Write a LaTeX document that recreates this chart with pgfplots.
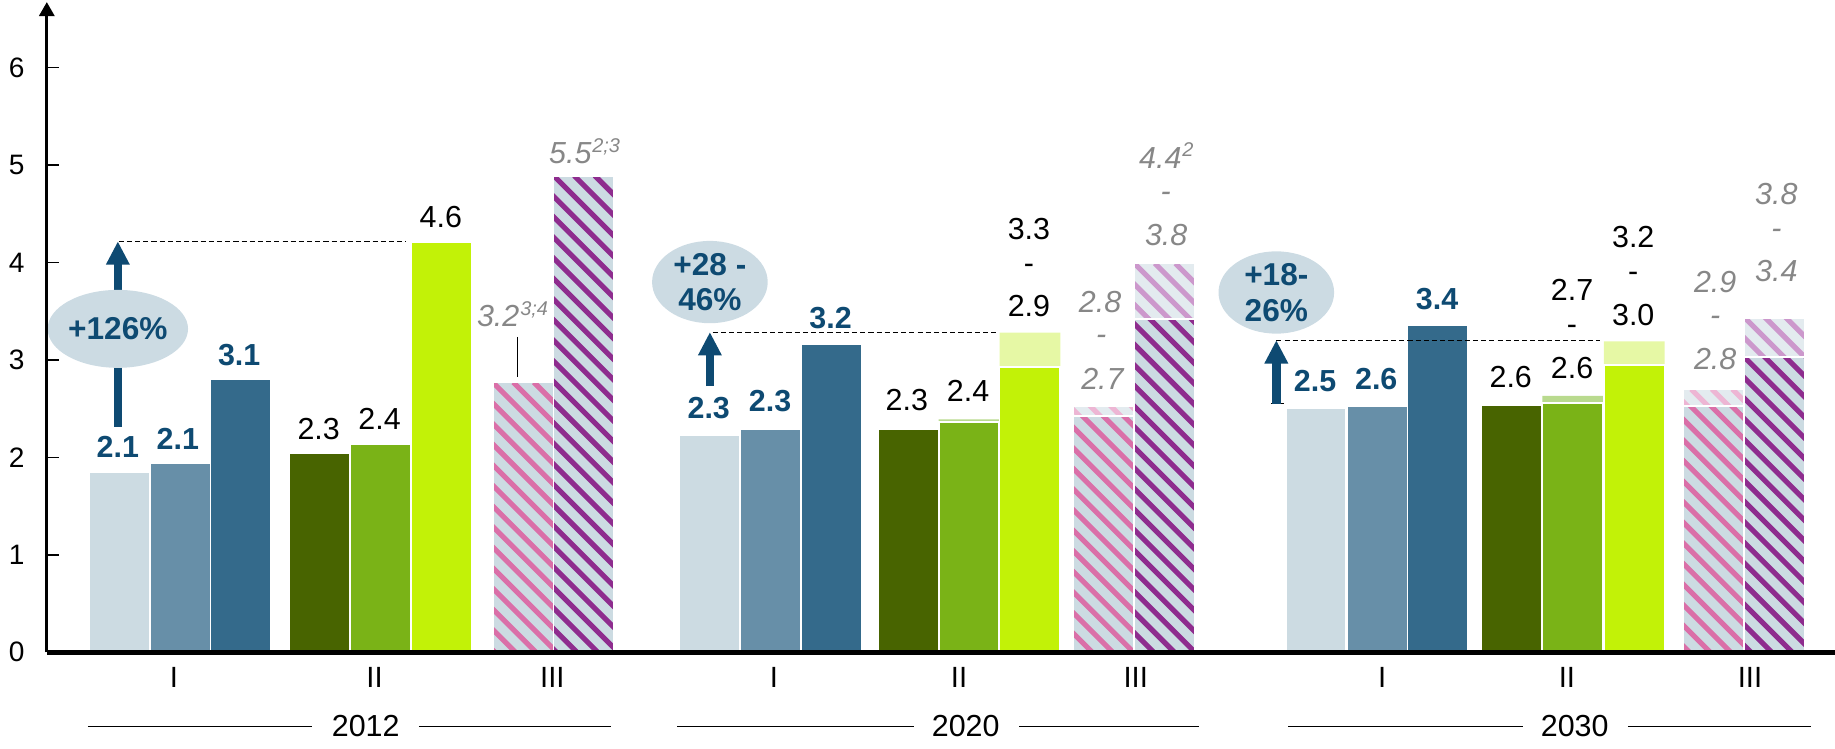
\documentclass[border=0pt]{standalone}
\usepackage{fontspec}
\setmainfont{Liberation Sans}
\usepackage{pgfplots}
\pgfplotsset{compat=1.18}
\usetikzlibrary{arrows.meta,shapes.geometric}

\definecolor{cA}{HTML}{CCDBE2}
\definecolor{cB}{HTML}{678FA8}
\definecolor{cC}{HTML}{346A8B}
\definecolor{gA}{HTML}{486400}
\definecolor{gB}{HTML}{7AB317}
\definecolor{gC}{HTML}{C2F207}
\definecolor{gBcap}{HTML}{B9DA8E}
\definecolor{gCcap}{HTML}{E6F8A5}
\definecolor{hFill}{HTML}{CCDBE2}
\definecolor{hFillcap}{HTML}{E3EBEF}
\definecolor{pinkS}{HTML}{DA6FA8}
\definecolor{pinkScap}{HTML}{EDB6D4}
\definecolor{purpS}{HTML}{8E2C8E}
\definecolor{purpScap}{HTML}{CC98CC}
\definecolor{labblue}{HTML}{0E4A72}
\definecolor{ellfill}{HTML}{CCDBE3}
\definecolor{graytxt}{HTML}{878787}

\makeatletter
\newcommand\drawstripes[1]{%
  \pgfpointanchor{path picture bounding box}{north west}%
  \pgfgetlastxy{\nwx}{\nwy}%
  \pgfsetlinewidth{2.2pt}%
  \pgfsetstrokecolor{#1}%
  \foreach \k in {-26,...,62}{%
    \pgfpathmoveto{\pgfpointadd{\pgfqpoint{\nwx}{\nwy}}{\pgfpoint{\k*8.8pt}{0pt}}}%
    \pgfpathlineto{\pgfpointadd{\pgfqpoint{\nwx}{\nwy}}{\pgfpoint{\k*8.8pt+250pt}{-250pt}}}%
    \pgfusepath{stroke}%
  }%
}
\makeatother

\tikzset{
  lb/.style={font=\fontsize{13}{15}\selectfont\bfseries, text=labblue, inner sep=0pt},
  lk/.style={font=\fontsize{13}{15}\selectfont, text=black, inner sep=0pt},
  lg/.style={font=\fontsize{13}{15}\selectfont\itshape, text=graytxt, inner sep=0pt},
  sup/.style={inner sep=0pt, font=\fontsize{8.5}{10}\selectfont\itshape, text=graytxt, anchor=base west},
  dsh/.style={black, line width=0.45pt, dash pattern=on 2.2pt off 1.3pt},
  upar/.style={labblue, line width=3.6pt, -{Triangle[length=10pt,width=9.5pt]}},
  ell/.style={ellipse, fill=ellfill, minimum width=49.4pt, minimum height=33.3pt, inner sep=0pt, align=center, font=\fontsize{13.5}{15.3}\selectfont\bfseries, text=labblue},
  stripes/.style={path picture={\drawstripes{#1}}},
}

\begin{document}
\begin{tikzpicture}
\begin{axis}[
  at={(20pt,41.3pt)}, anchor=south west,
  scale only axis, width=764pt, height=277.8pt,
  xmin=40, xmax=1568, ymin=0, ymax=6.67,
  axis on top,
  axis x line*=bottom, axis y line*=left,
  x axis line style={line width=2.2pt},
  y axis line style={line width=1.2pt, -{Triangle[length=6pt,width=6.5pt]}},
  /pgf/number format/assume math mode=true,
  ytick={0,1,2,3,4,5,6},
  yticklabels={0,1,2,3,4,5,6},
  ytick style={line width=0.6pt, black},
  major tick length=5pt, tick align=inside,
  yticklabel style={font=\fontsize{12}{14}\selectfont, xshift=-6pt},
  xtick={148.6,320,472,661.3,819.5,970.5,1181,1338.9,1495.3},
  xticklabels={I,II,III,I,II,III,I,II,III},
  xtick style={draw=none},
  xticklabel style={font=\fontsize{12.5}{14}\selectfont, yshift=-3pt},
  clip=false,
  mybar/.style={ybar, bar width=52, bar shift=0pt, draw=white, line width=0.8pt},
  hbar/.style={ybar, bar width=52, bar shift=0pt, draw=white, line width=0.8pt, /tikz/stripes=#1},
]
% caps (ranges)
\addplot[mybar, draw=none, fill=gBcap] coordinates {(828,2.39) (1344,2.63)};
\addplot[mybar, draw=none, fill=gCcap] coordinates {(880.1,3.28) (1396.5,3.19)};
\addplot[hbar=pinkScap, fill=hFillcap] coordinates {(943.1,2.53) (1463.9,2.70)};
\addplot[hbar=purpScap, fill=hFillcap] coordinates {(995.2,3.99) (1516,3.43)};
% group I
\addplot[mybar, fill=cA] coordinates {(101.7,1.85) (606.1,2.23) (1124.5,2.51)};
\addplot[mybar, fill=cB] coordinates {(153.9,1.94) (658,2.29) (1176.7,2.53)};
\addplot[mybar, fill=cC] coordinates {(205.9,2.80) (710.5,3.16) (1228.7,3.36)};
% group II
\addplot[mybar, fill=gA] coordinates {(273.1,2.04) (775.9,2.29) (1291.9,2.54)};
\addplot[mybar, fill=gB] coordinates {(325,2.14) (828,2.36) (1344,2.56)};
\addplot[mybar, fill=gC] coordinates {(377.5,4.21) (880.1,2.93) (1396.5,2.95)};
% group III
\addplot[hbar=pinkS, fill=hFill] coordinates {(447,2.77) (943.1,2.42) (1463.9,2.53)};
\addplot[hbar=purpS, fill=hFill] coordinates {(499,4.89) (995.2,3.42) (1516,3.03)};

% dashed reference lines
\draw[dsh] (axis cs:101.4,4.21) -- (axis cs:347.3,4.21);
\draw[dsh] (axis cs:609,3.285) -- (axis cs:853.9,3.285);
\draw[dsh] (axis cs:1090.6,3.202) -- (axis cs:1367.6,3.202);
\draw[dsh] (axis cs:1086,2.55) -- (axis cs:1099,2.55);

% arrows
\draw[upar] (axis cs:100.7,2.315) -- (axis cs:100.7,4.216);
\draw[upar] (axis cs:606.6,2.730) -- (axis cs:606.6,3.285);
\draw[upar] (axis cs:1090.6,2.550) -- (axis cs:1090.6,3.202);

% ellipses
\node[ell] at (axis cs:100.7,3.318) {+126\%};
\node[ell] at (axis cs:606.6,3.798) {+28 -\\46\%};
\node[ell] at (axis cs:1090.6,3.691) {+18-\\26\%};

% 2012 labels
\node[lb] at (axis cs:100.7,2.108) {2.1};
\node[lb] at (axis cs:152,2.192) {2.1};
\node[lb] at (axis cs:204.4,3.054) {3.1};
\node[lk] at (axis cs:272.3,2.294) {2.3};
\node[lk] at (axis cs:324.3,2.394) {2.4};
\node[lk] at (axis cs:376.7,4.461) {4.6};
\node[lg] (s1) at (axis cs:425.7,3.447) {3.2};
\node[sup] at ([yshift=4.8pt]s1.base east) {3;4};
\draw[black, line width=0.5pt] (axis cs:441.9,3.235) -- (axis cs:441.9,2.828);
\node[lg] (s2) at (axis cs:487.3,5.122) {5.5};
\node[sup] at ([yshift=4.8pt]s2.base east) {2;3};

% 2020 labels
\node[lb] at (axis cs:605.6,2.501) {2.3};
\node[lb] at (axis cs:658,2.574) {2.3};
\node[lb] at (axis cs:709.7,3.432) {3.2};
\node[lk] at (axis cs:774.9,2.583) {2.3};
\node[lk] at (axis cs:827.2,2.682) {2.4};
\node[lk] at (axis cs:879.2,4.338) {3.3};
\node[lk] at (axis cs:879.2,3.936) {-};
\node[lk] at (axis cs:879.2,3.555) {2.9};
\node[lg] at (axis cs:940,3.594) {2.8};
\node[lg] at (axis cs:941,3.202) {-};
\node[lg] at (axis cs:942,2.809) {2.7};
\node[lg] (s3) at (axis cs:991.5,5.074) {4.4};
\node[sup] at ([yshift=4.8pt]s3.base east) {2};
\node[lg] at (axis cs:996,4.672) {-};
\node[lg] at (axis cs:996.5,4.280) {3.8};

% 2030 labels
\node[lb] at (axis cs:1123.7,2.785) {2.5};
\node[lb] at (axis cs:1176,2.804) {2.6};
\node[lb] at (axis cs:1228,3.628) {3.4};
\node[lk] at (axis cs:1290.9,2.819) {2.6};
\node[lk] at (axis cs:1343.3,3.715) {2.7};
\node[lk] at (axis cs:1343.3,3.310) {-};
\node[lk] at (axis cs:1343.3,2.917) {2.6};
\node[lk] at (axis cs:1395.6,4.255) {3.2};
\node[lk] at (axis cs:1395.6,3.849) {-};
\node[lk] at (axis cs:1395.6,3.456) {3.0};
\node[lg] at (axis cs:1465.6,3.798) {2.9};
\node[lg] at (axis cs:1465.6,3.397) {-};
\node[lg] at (axis cs:1465.6,3.005) {2.8};
\node[lg] at (axis cs:1517.9,4.696) {3.8};
\node[lg] at (axis cs:1517.9,4.291) {-};
\node[lg] at (axis cs:1517.9,3.912) {3.4};

% year labels
\node[inner sep=0pt, font=\fontsize{13}{15}\selectfont] at (axis cs:312.5,-0.759) {2012};
\draw[line width=0.6pt] (axis cs:75,-0.759) -- (axis cs:267,-0.759);
\draw[line width=0.6pt] (axis cs:358,-0.759) -- (axis cs:522,-0.759);
\node[inner sep=0pt, font=\fontsize{13}{15}\selectfont] at (axis cs:825.2,-0.759) {2020};
\draw[line width=0.6pt] (axis cs:578.6,-0.759) -- (axis cs:780.6,-0.759);
\draw[line width=0.6pt] (axis cs:870.8,-0.759) -- (axis cs:1024.5,-0.759);
\node[inner sep=0pt, font=\fontsize{13}{15}\selectfont] at (axis cs:1345.6,-0.759) {2030};
\draw[line width=0.6pt] (axis cs:1100.7,-0.759) -- (axis cs:1301,-0.759);
\draw[line width=0.6pt] (axis cs:1391,-0.759) -- (axis cs:1547.7,-0.759);
\end{axis}
\pgfresetboundingbox
\path[use as bounding box] (0,0) rectangle (784pt,320pt);
\end{tikzpicture}
\end{document}
